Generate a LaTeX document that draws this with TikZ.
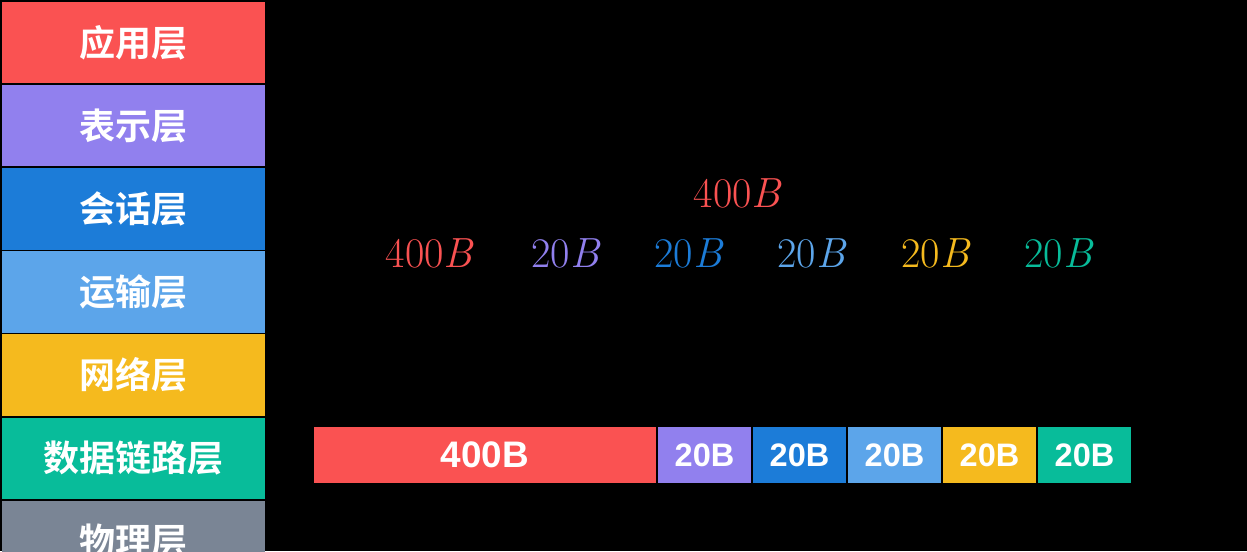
\documentclass[tikz,border=0pt]{standalone}
\usepackage{fontspec}
\usetikzlibrary{positioning}
\newfontfamily\cjk{Noto Sans CJK SC}[BoldFont={* Bold}]
\newfontfamily\barfont{Liberation Sans}
\definecolor{appred}{RGB}{250, 82, 82}
\definecolor{prespurple}{RGB}{145, 128, 238}
\definecolor{sessblue}{RGB}{28, 124, 216}
\definecolor{transblue}{RGB}{92, 165, 234}
\definecolor{netyellow}{RGB}{245, 186, 30}
\definecolor{linkgreen}{RGB}{8, 188, 154}
\definecolor{physgray}{RGB}{122, 133, 149}

\begin{document}
\begin{tikzpicture}[
  layer/.style={minimum width=5.26cm, minimum height=1.63cm, inner sep=0pt, outer sep=0pt,
                text=white, font=\cjk\bfseries\fontsize{20.5}{24}\selectfont},
  seg/.style={minimum height=1.12cm, minimum width=1.86cm, inner sep=0pt, outer sep=0pt,
              text=white, font=\barfont\bfseries\fontsize{18.5}{22}\selectfont},
  lbl/.style={font=\fontsize{24}{28}\selectfont}
]
\fill[black] (0,0) rectangle (24.94,11.02);
\useasboundingbox (0,0) rectangle (24.94,11.02);

% layer stack
\node[layer, fill=appred] (app) at (2.67,10.17) {应用层};
\node[layer, fill=prespurple, below=0.033cm of app]   (pres)  {表示层};
\node[layer, fill=sessblue, below=0.033cm of pres]    (sess)  {会话层};
\node[layer, fill=transblue, below=0.033cm of sess]   (trans) {运输层};
\node[layer, fill=netyellow, below=0.033cm of trans]  (net)   {网络层};
\node[layer, fill=linkgreen, below=0.033cm of net]    (link)  {数据链路层};
\node[layer, fill=physgray, below=0.033cm of link]    (phys)  {物理层};

% sizes
\node[lbl, text=appred] (sum) at (14.76,7.16) {400\textit{B}};
\node[lbl, text=appred]     (l400)  at (8.60,5.96)  {400\textit{B}};
\node[lbl, text=prespurple] (lpres) at (11.32,5.96) {20\textit{B}};
\node[lbl, text=sessblue]   (lsess) at (13.78,5.96) {20\textit{B}};
\node[lbl, text=transblue]  (ltrans) at (16.24,5.96) {20\textit{B}};
\node[lbl, text=netyellow]  (lnet)  at (18.72,5.96) {20\textit{B}};
\node[lbl, text=linkgreen]  (llink) at (21.18,5.96) {20\textit{B}};

% frame
\node[seg, fill=appred, minimum width=6.84cm, font=\barfont\bfseries\fontsize{21}{25}\selectfont]
   (b400) at (9.70,1.92) {400B};
\node[seg, fill=prespurple, right=0.04cm of b400]  (bpres)  {20B};
\node[seg, fill=sessblue, right=0.04cm of bpres]   (bsess)  {20B};
\node[seg, fill=transblue, right=0.04cm of bsess]  (btrans) {20B};
\node[seg, fill=netyellow, right=0.04cm of btrans] (bnet)   {20B};
\node[seg, fill=linkgreen, right=0.04cm of bnet]   (blink)  {20B};
\end{tikzpicture}
\end{document}
